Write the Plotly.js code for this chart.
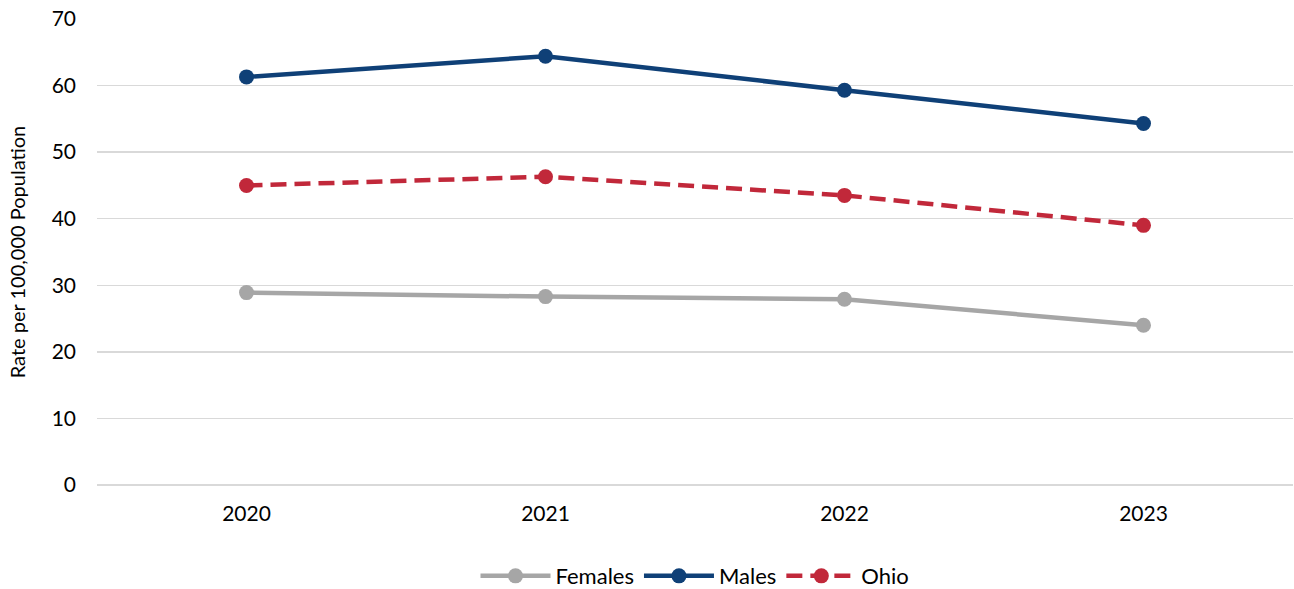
<!DOCTYPE html>
<html>
<head>
<meta charset="utf-8">
<script src="https://cdn.plot.ly/plotly-3.0.1.min.js"></script>
<style>html,body{margin:0;padding:0;background:#fff;}#chart{width:1294px;height:589px;}</style>
</head>
<body>
<div id="chart"></div>
<script>
const years = ["2020", "2021", "2022", "2023"];
const females = [28.9, 28.3, 27.9, 24.0];
const males = [61.3, 64.4, 59.3, 54.3];
const ohio = [45.0, 46.3, 43.5, 39.0];

const FONT = "Lato, 'Noto Sans', sans-serif";

const traces = [
  {x: years, y: females, name: "Females", type: "scatter", mode: "lines+markers",
   line: {color: "#a6a6a6", width: 4.5}, marker: {color: "#a6a6a6", size: 15}},
  {x: years, y: males, name: "Males", type: "scatter", mode: "lines+markers",
   line: {color: "#0f4077", width: 4.5}, marker: {color: "#0f4077", size: 15}},
  {x: years, y: ohio, name: "Ohio", type: "scatter", mode: "lines+markers",
   line: {color: "#c1283a", width: 4.5, dash: "16px,8px"}, marker: {color: "#c1283a", size: 15}}
];

const layout = {
  width: 1294, height: 589,
  margin: {l: 97, r: 1, t: 19, b: 104, autoexpand: false},
  paper_bgcolor: "#fff", plot_bgcolor: "#fff",
  font: {family: FONT, size: 21, color: "#000"},
  showlegend: true,
  legend: {orientation: "h", x: 0.5, xanchor: "center", yref: "container", y: 0.022, yanchor: "middle",
           font: {family: FONT, size: 22, color: "#000"}, traceorder: "normal", itemwidth: 70},
  xaxis: {type: "category", range: [-0.5, 3.5], showgrid: false, zeroline: false,
          showline: false, ticks: "", ticklabelstandoff: 14, automargin: false,
          tickfont: {family: FONT, size: 21}},
  yaxis: {range: [0, 70], dtick: 10, showgrid: true, gridcolor: "#d9d9d9", gridwidth: 1.5,
          zeroline: true, zerolinecolor: "#d9d9d9", zerolinewidth: 1.5,
          showline: false, ticks: "", ticklabelstandoff: 20, automargin: false,
          tickfont: {family: FONT, size: 21},
          title: {text: "Rate per 100,000 Population", font: {family: FONT, size: 20}, standoff: 20}}
};

Plotly.newPlot("chart", traces, layout, {displayModeBar: false, staticPlot: true});
</script>
</body>
</html>
